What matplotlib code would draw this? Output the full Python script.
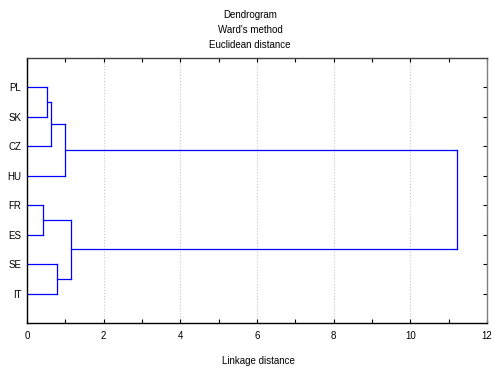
import matplotlib
matplotlib.use("Agg")
import matplotlib.pyplot as plt
from matplotlib.ticker import MultipleLocator

leaves = ["PL", "SK", "CZ", "HU", "FR", "ES", "SE", "IT"]
# merges: (child_a, child_b, linkage distance); new cluster ids start at len(leaves)
merge_a = [0, 8, 9, 4, 6, 11, 10]
merge_b = [1, 2, 3, 5, 7, 12, 13]
merge_h = [0.53, 0.63, 1.00, 0.41, 0.79, 1.15, 11.21]

plt.rcParams['font.family'] = ['Liberation Sans', 'DejaVu Sans']

fig = plt.figure(figsize=(4.92, 3.68), dpi=100)
ax = fig.add_axes([27/492, 1 - 323/368, 460/492, 265/368])

ypos = {i: i + 1 for i in range(len(leaves))}
xpos = {i: 0.0 for i in range(len(leaves))}
color = (0, 0, 1)
for k, (a, b, h) in enumerate(zip(merge_a, merge_b, merge_h)):
    nid = len(leaves) + k
    ax.plot([xpos[a], h], [ypos[a], ypos[a]], color=color, lw=0.9)
    ax.plot([xpos[b], h], [ypos[b], ypos[b]], color=color, lw=0.9)
    ax.plot([h, h], [ypos[a], ypos[b]], color=color, lw=0.9)
    ypos[nid] = (ypos[a] + ypos[b]) / 2
    xpos[nid] = h

ax.set_xlim(0, 12)
ax.set_ylim(9, 0)
ax.xaxis.set_major_locator(MultipleLocator(2))
ax.xaxis.set_minor_locator(MultipleLocator(1))
ax.set_yticks(range(1, len(leaves) + 1))
ax.set_yticklabels(leaves)
ax.tick_params(axis='x', which='both', direction='in', top=True, bottom=True,
               length=3, width=0.8, labelsize=7, pad=6)
ax.tick_params(axis='y', which='both', direction='in', left=False, right=True,
               length=3, width=0.8, labelsize=7, pad=4)
ax.grid(axis='x', which='major', color='#c8c8c8', linestyle=':', lw=0.8)
for s in ax.spines.values():
    s.set_linewidth(1.0)
    s.set_color('black')
ax.spines['right'].set_color('#808080')
ax.spines['top'].set_color('#404040')

fig.text(250/492, 1 - 15/368, "Dendrogram", ha='center', va='center', fontsize=7)
fig.text(250/492, 1 - 30/368, "Ward's method", ha='center', va='center', fontsize=7)
fig.text(250/492, 1 - 45/368, "Euclidean distance", ha='center', va='center', fontsize=7)
fig.text(258/492, 1 - 361/368, "Linkage distance", ha='center', va='center', fontsize=7)

fig.savefig("out.png", dpi=100)
